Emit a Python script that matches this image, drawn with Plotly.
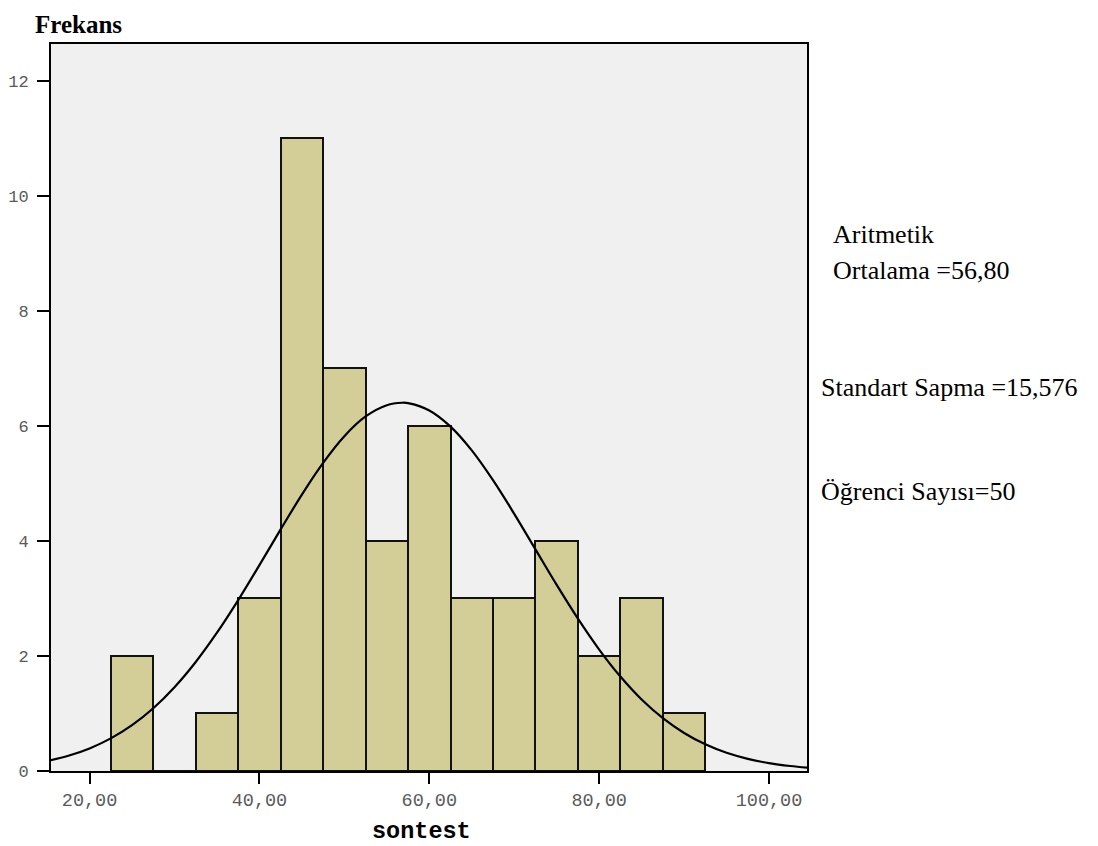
import plotly.graph_objects as go

# Histogram data (bin centers, width 5)
bin_centers = [25, 30, 35, 40, 45, 50, 55, 60, 65, 70, 75, 80, 85, 90]
counts = [2, 0, 1, 3, 11, 7, 4, 6, 3, 3, 4, 2, 3, 1]
bin_width = 5

# Normal curve
curve_x = [15, 17.5, 20, 22.5, 25, 27.5, 30, 32.5, 35, 37.5, 40, 42.5, 45, 47.5, 50,
           52.5, 55, 56.8, 57.5, 60, 62.5, 65, 67.5, 70, 72.5, 75, 77.5, 80, 82.5,
           85, 87.5, 90, 92.5, 95, 97.5, 100, 102.5, 105]
curve_y = [0.175, 0.265, 0.393, 0.567, 0.797, 1.091, 1.457, 1.896, 2.404, 2.972, 3.579,
           4.201, 4.806, 5.357, 5.821, 6.164, 6.360, 6.403, 6.397, 6.269, 5.988, 5.575,
           5.057, 4.471, 3.853, 3.235, 2.648, 2.112, 1.642, 1.243, 0.918, 0.661, 0.463,
           0.316, 0.211, 0.137, 0.087, 0.053]

x_tickvals = [20, 40, 60, 80, 100]
x_ticktext = ["20,00", "40,00", "60,00", "80,00", "100,00"]
y_tickvals = [0, 2, 4, 6, 8, 10, 12]

OFF = 8  # page body margin
W, H = 1098 - OFF, 846 - OFF
L, R, T, B = 51 - OFF, 807 - OFF, 44 - OFF, 771 - OFF

fig = go.Figure()
fig.add_trace(go.Bar(
    x=bin_centers, y=counts, width=bin_width,
    marker=dict(color="#D3CE97", line=dict(color="#111111", width=2)),
    showlegend=False, hoverinfo="x+y"))
fig.add_trace(go.Scatter(
    x=curve_x, y=curve_y, mode="lines", line=dict(color="black", width=2.2, shape="spline"),
    showlegend=False))

def px(xp):
    return (xp - OFF - L) / (R - L)

def py(yp):
    return (B - (yp - OFF)) / (B - T)

serif = "Liberation Serif, Times New Roman, serif"
mono = "Liberation Mono, Courier New, monospace"

fig.add_annotation(text="<b>Frekans</b>", x=px(33), y=py(8.5), xref="paper", yref="paper",
                   xanchor="left", yanchor="top", showarrow=False,
                   font=dict(family=serif, size=25, color="black"))

annots = [
    dict(text="Aritmetik", x=px(831), y=py(234), size=26),
    dict(text="Ortalama =56,80", x=px(831), y=py(270), size=26),
    dict(text="Standart Sapma =15,576", x=px(819), y=py(387), size=26),
    dict(text="Öğrenci Sayısı=50", x=px(819), y=py(491), size=26),
]
for a in annots:
    fig.add_annotation(text=a["text"], x=a["x"], y=a["y"], xref="paper", yref="paper",
                       xanchor="left", yanchor="middle", showarrow=False,
                       font=dict(family=serif, size=a["size"], color="black"))

fig.add_annotation(text="<b>sontest</b>", x=px(421), y=py(831), xref="paper", yref="paper",
                   xanchor="center", yanchor="middle", showarrow=False,
                   font=dict(family=mono, size=23.5, color="black"))

fig.update_layout(
    width=W, height=H,
    margin=dict(l=L, r=W - R, t=T, b=H - B, pad=0, autoexpand=False),
    paper_bgcolor="white", plot_bgcolor="#F0F0F0",
    bargap=0,
)
fig.update_xaxes(range=[15.46, 104.47], tickvals=x_tickvals, ticktext=x_ticktext,
                 automargin=False,
                 showgrid=False, zeroline=False, showline=True, linecolor="black", linewidth=2,
                 mirror=True, ticks="outside", ticklen=11, tickwidth=2, tickcolor="black",
                 tickfont=dict(family=mono, size=18.5, color="#5a5a5a"))
fig.update_yaxes(range=[0, 12.64], tickvals=y_tickvals, automargin=False,
                 showgrid=False, zeroline=False, showline=True, linecolor="black", linewidth=2,
                 mirror=True, ticks="outside", ticklen=12, tickwidth=2, tickcolor="black",
                 ticklabelstandoff=5,
                 tickfont=dict(family=mono, size=17, color="#5a5a5a"))

fig.write_html("out.html")
